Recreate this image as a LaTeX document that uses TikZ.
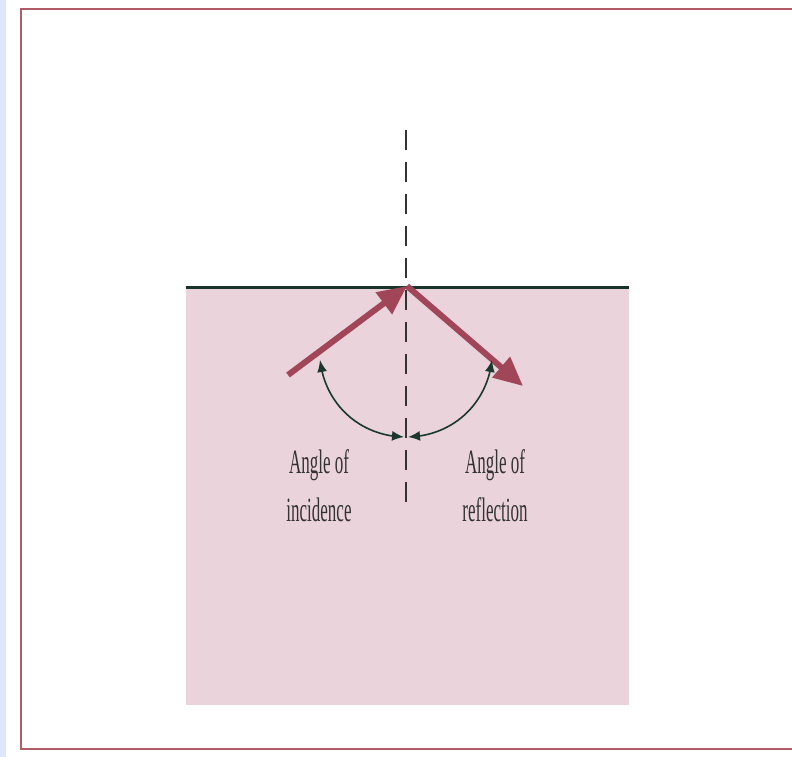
\documentclass[tikz,border=0pt]{standalone}
\usepackage{fontspec}
\setmainfont{Liberation Serif}
\newfontfamily\narrowserif[FakeStretch=0.5]{Liberation Serif}
\usetikzlibrary{
    arrows.meta,
    bending,
    positioning
}
\definecolor{stripblue}{RGB}{222,230,250}
\definecolor{framered}{RGB}{178,92,104}
\definecolor{mediumpink}{RGB}{234,211,219}
\definecolor{surfacegreen}{RGB}{24,52,42}
\definecolor{raycol}{RGB}{160,70,88}
\definecolor{arccol}{RGB}{26,56,46}

\begin{document}
\begin{tikzpicture}[
        x=1pt, y=-1pt,
        frameline/.style={
            draw=framered,
            line width=1.6pt
        },
        surface/.style={
            draw=surfacegreen,
            line width=3pt
        },
        ray/.style={
            -{Triangle[length=29pt,width=26pt]},
            line width=6pt,
            draw=raycol
        },
        anglearc/.style={
            {Latex[length=12pt,width=10pt]}-{Latex[length=12pt,width=10pt]},
            line width=1.6pt,
            draw=arccol
        },
        normalline/.style={
            draw=black!80,
            line width=1.1pt,
            dash pattern=on 20pt off 12pt
        },
        caption/.style={
            font=\narrowserif\fontsize{34pt}{48pt}\selectfont,
            align=center,
            inner sep=0pt,
            anchor=north,
            text=black!80
        }
    ]

    \useasboundingbox (0,0) rectangle (792,757);

    % page and frame
    \fill[stripblue] (0,0) rectangle (6,757);
    \draw[frameline] (792,9) -- (21,9) -- (21,749) -- (792,749);

    % second medium
    \fill[mediumpink] (186,287) rectangle (629,705);
    \coordinate (surfleft) at (186,287);
    \coordinate (surfright) at (629,287);
    \draw[surface] (surfleft) -- (surfright);

    % normal to the surface
    \coordinate (normaltop) at (406,130);
    \coordinate (normalbottom) at (406,512);
    \draw[normalline] (normaltop) -- (normalbottom);

    % rays
    \coordinate (source) at (288,375);
    \coordinate (hit) at (407,286);
    \coordinate (exit) at (523,386);
    \draw[ray] (source) -- (hit);
    \draw[ray] (hit) -- (exit);

    % angles
    \coordinate (incend) at (320,360);
    \coordinate (refend) at (492,360);
    \coordinate (vertexleft) at (404,437);
    \coordinate (vertexright) at (408,437);
    \draw[anglearc] (incend) to[bend right=41] (vertexleft);
    \draw[anglearc] (refend) to[bend left=41] (vertexright);

    \node[caption] (incidence) at (319,449) {Angle of\\incidence};
    \node[caption] (reflection) at (495,449) {Angle of\\reflection};

    \end{tikzpicture}
\end{document}
